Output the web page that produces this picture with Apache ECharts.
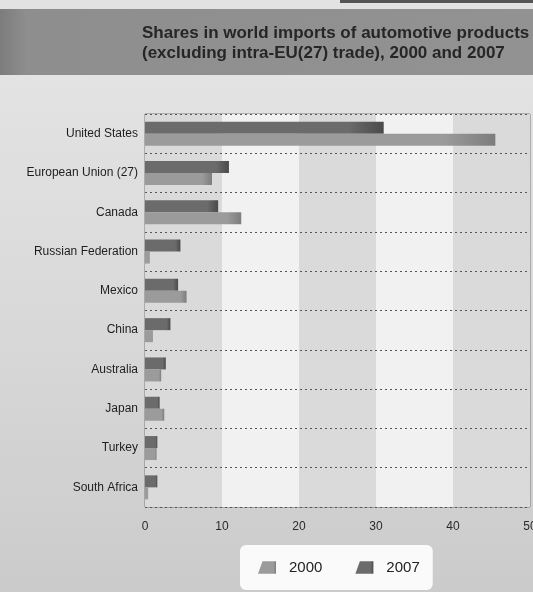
<!DOCTYPE html>
<html>
<head>
<meta charset="utf-8">
<script src="https://cdn.jsdelivr.net/npm/echarts@6/dist/echarts.min.js"></script>
<style>
  html, body { margin: 0; padding: 0; background: #d6d6d6; }
  #chart { width: 533px; height: 592px; }
</style>
</head>
<body>
<div id="chart"></div>
<script>
// Shares in world imports of automotive products (per cent)
const countries = [
  'United States', 'European Union (27)', 'Canada', 'Russian Federation', 'Mexico',
  'China', 'Australia', 'Japan', 'Turkey', 'South Africa'
];
const share2000 = [45.5, 8.7, 12.5, 0.6, 5.4, 1.0, 2.1, 2.5, 1.5, 0.4];
const share2007 = [31.0, 10.9, 9.5, 4.6, 4.3, 3.3, 2.7, 1.9, 1.6, 1.6];
const xTicks = [0, 10, 20, 30, 40, 50];
const titleLines = [
  'Shares in world imports of automotive products',
  '(excluding intra-EU(27) trade), 2000 and 2007'
];

const chart = echarts.init(document.getElementById('chart'), null, { renderer: 'canvas' });

function barFill(base, edge) {
  return new echarts.graphic.LinearGradient(0, 0, 1, 0, [
    { offset: 0, color: base },
    { offset: 0.85, color: base },
    { offset: 1, color: edge }
  ]);
}

chart.setOption({
  backgroundColor: new echarts.graphic.LinearGradient(0, 0, 0, 1, [
    { offset: 0, color: '#e6e6e6' },
    { offset: 0.5, color: '#dadada' },
    { offset: 1, color: '#cbcbcb' }
  ]),
  animation: false,
  graphic: [
    { type: 'rect', shape: { x: 0, y: 0, width: 533, height: 10 }, style: { fill: '#e2e2e2' }, z: -1 },
    { type: 'rect', shape: { x: 340, y: 0, width: 193, height: 3 }, style: { fill: '#555' }, z: -1 },
    {
      type: 'rect', shape: { x: 0, y: 9, width: 533, height: 66 },
      style: {
        fill: new echarts.graphic.LinearGradient(0, 0, 1, 0, [
          { offset: 0, color: '#7c7c7c' },
          { offset: 0.05, color: '#8e8e8e' },
          { offset: 1, color: '#929292' }
        ])
      },
      z: -1
    },
    {
      type: 'text', left: 142, top: 23,
      style: {
        text: titleLines.join('\n'),
        font: 'bold 17px "Liberation Sans", Arial, sans-serif',
        lineHeight: 20,
        fill: '#262626'
      }
    }
  ],
  grid: {
    left: 145, right: 3, top: 114, bottom: 85,
    outerBoundsMode: 'none',
    containLabel: false,
    show: true, borderColor: '#7a7a7a', borderWidth: 1, backgroundColor: 'transparent'
  },
  legend: {
    data: ['2000', '2007'],
    left: 240, top: 545,
    backgroundColor: '#fafafa',
    borderRadius: 6,
    padding: [15, 13, 15, 18],
    itemGap: 33,
    itemWidth: 18, itemHeight: 14,
    icon: 'path://M5,0 L20,0 L20,14 L0,14 Z',
    textStyle: { fontSize: 15, color: '#222', fontFamily: '"Liberation Sans", Arial, sans-serif', padding: [0, 0, 0, 8] }
  },
  xAxis: {
    type: 'value',
    min: xTicks[0], max: xTicks[xTicks.length - 1], interval: 10,
    z: 1,
    axisLine: { show: false },
    axisTick: { show: false },
    splitLine: { show: false },
    splitArea: { show: true, areaStyle: { color: ['#dadada', '#f1f1f1'] } },
    axisLabel: {
      margin: 14, fontSize: 12, color: '#2a2a2a',
      fontFamily: '"Liberation Sans", Arial, sans-serif',
      formatter: v => xTicks.includes(v) ? String(v) : ''
    }
  },
  yAxis: {
    type: 'category',
    data: countries,
    inverse: true,
    z: 4,
    axisLine: { show: false },
    axisTick: { show: false },
    splitLine: { show: true, lineStyle: { color: '#555', width: 1, type: [2, 3] } },
    axisLabel: {
      margin: 7, fontSize: 12, color: '#1e1e1e',
      fontFamily: '"Liberation Sans Narrow", "Liberation Sans", Arial, sans-serif'
    }
  },
  series: [
    {
      name: '2007', type: 'bar', data: share2007,
      barWidth: 12, barGap: '0%', z: 5,
      itemStyle: { color: barFill('#6b6b6b', '#4a4a4a') }
    },
    {
      name: '2000', type: 'bar', data: share2000,
      barWidth: 12, barGap: '0%', z: 5,
      itemStyle: { color: barFill('#9b9b9b', '#7d7d7d') }
    }
  ]
});
</script>
</body>
</html>
